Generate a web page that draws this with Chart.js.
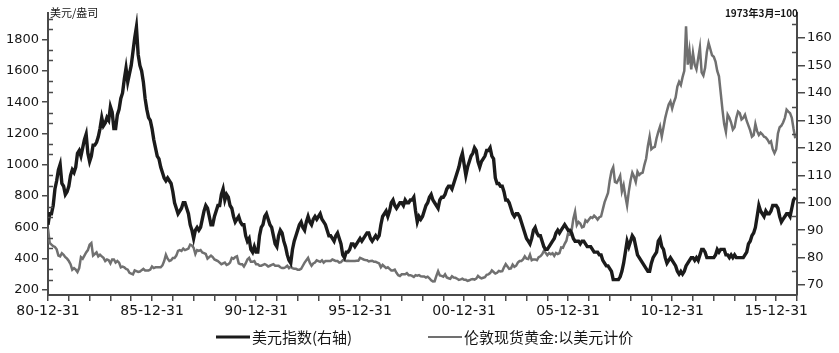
<!DOCTYPE html>
<html>
<head>
<meta charset="utf-8">
<script src="https://cdn.jsdelivr.net/npm/chart.js@4"></script>
<style>
  html, body { margin: 0; padding: 0; background: #fff; }
  #wrap { width: 839px; height: 353px; }
</style>
</head>
<body>
<div id="wrap"><canvas id="c"></canvas></div>
<script>
// monthly readings, first point sits on 80-12-31
const START_YEAR = 1981;
const END_YEAR = 2017;

// 美元指数 (right axis), one row per year, Jan..Dec
const usdIndex = [
  92, 96, 96, 99, 105, 108, 112, 114, 107, 106, 103, 104,
  106, 110, 112, 111, 113, 118, 119, 117, 120, 123, 125, 118,
  115, 117, 121, 121, 122, 124, 127, 131, 128, 129, 131, 130,
  135, 133, 127, 127, 132, 134, 138, 140, 145, 149, 144, 147,
  150, 155, 160, 164, 154, 150, 148, 144, 138, 134, 131, 130,
  127, 123, 120, 117, 116, 113, 111, 109, 108, 109, 108, 107,
  104, 100, 98, 96, 97, 98, 100, 100, 98, 96, 92, 90,
  87, 90, 91, 90, 91, 94, 97, 99, 98, 95, 92, 92,
  95, 97, 99, 99, 103, 105, 101, 103, 102, 99, 98, 95,
  93, 94, 95, 93, 92, 92, 88, 86, 87, 83, 82, 84,
  82, 82, 88, 91, 92, 95, 96, 94, 92, 91, 88, 85,
  84, 88, 90, 89, 86, 84, 81, 79, 78, 83, 86, 88,
  90, 92, 93, 91, 90, 93, 95, 93, 92, 94, 95, 94,
  95, 96, 94, 93, 92, 90, 88, 88, 87, 86, 88, 89,
  87, 85, 81, 80, 82, 82, 83, 85, 85, 84, 85, 86,
  87, 86, 87, 88, 89, 89, 87, 86, 87, 88, 87, 88,
  92, 95, 96, 97, 95, 97, 100, 101, 99, 98, 99, 100,
  100, 99, 101, 100, 100, 101, 101, 102, 97, 93, 95, 94,
  95, 97, 99, 100, 102, 103, 101, 100, 99, 98, 101, 102,
  102, 103, 105, 106, 106, 105, 107, 109, 111, 113, 116, 118,
  114, 110, 113, 115, 117, 118, 120, 119, 115, 113, 115, 116,
  117, 119, 119, 120, 117, 116, 109, 107, 107, 106, 106, 104,
  101, 101, 100, 98, 96, 95, 96, 96, 95, 93, 91, 89,
  87, 86, 85, 87, 90, 91, 89, 88, 88, 86, 84, 83,
  83, 84, 85, 86, 87, 89, 90, 89, 90, 91, 92, 91,
  90, 90, 89, 87, 86, 86, 86, 85, 86, 86, 85, 84,
  84, 84, 83, 82, 82, 82, 81, 81, 79, 78, 77, 77,
  76, 75, 72, 72, 72, 72, 73, 75, 78, 82, 86, 84,
  86, 88, 87, 84, 81, 80, 79, 78, 77, 76, 75, 75,
  78, 80, 81, 82, 86, 87, 84, 83, 80, 78, 79, 80,
  79, 78, 77, 75, 74, 75, 74, 75, 77, 78, 79, 80,
  80, 79, 80, 79, 81, 83, 83, 82, 80, 80, 80, 80,
  80, 81, 83, 82, 83, 83, 83, 81, 81, 80, 81, 80,
  81, 80, 80, 80, 80, 80, 81, 82, 85, 86, 88, 89,
  91, 95, 99, 97, 96, 95, 97, 96, 96, 97, 99, 99,
  99, 98, 95, 93, 94, 95, 96, 96, 95, 98, 101, 102
];

// 伦敦现货黄金 USD/oz (left axis), one row per year, Jan..Dec
const goldPrice = [
  590, 500, 490, 480, 475, 460, 420, 415, 435, 425, 410, 400,
  385, 365, 330, 340, 330, 315, 340, 410, 400, 420, 440, 455,
  490, 500, 420, 430, 440, 415, 425, 415, 405, 385, 395, 390,
  370, 395, 395, 375, 385, 375, 345, 350, 345, 335, 330, 310,
  305, 300, 325, 320, 315, 318, 327, 335, 325, 325, 325, 330,
  350, 340, 345, 345, 345, 345, 357, 385, 425, 400, 385, 390,
  405, 405, 420, 450, 455, 450, 465, 455, 460, 465, 490, 485,
  470, 430, 455, 450, 455, 440, 435, 430, 400, 410, 420, 410,
  395, 390, 385, 375, 365, 370, 375, 360, 365, 375, 405, 400,
  410, 415, 370, 365, 365, 350, 370, 395, 405, 380, 380, 385,
  365, 365, 355, 355, 360, 365, 360, 350, 355, 360, 365, 355,
  355, 355, 345, 340, 340, 345, 355, 340, 350, 340, 335, 335,
  330, 330, 335, 355, 375, 390, 405, 375, 355, 370, 375, 390,
  385, 380, 390, 375, 385, 385, 385, 385, 395, 390, 385, 385,
  375, 378, 390, 390, 385, 387, 385, 385, 385, 385, 387, 387,
  405, 400, 395, 392, 390, 382, 385, 387, 380, 380, 375, 370,
  345, 360, 350, 340, 345, 335, 325, 325, 330, 310, 295, 290,
  300, 300, 300, 308, 295, 295, 290, 283, 295, 292, 295, 288,
  287, 287, 280, 285, 275, 262, 255, 256, 290, 320, 293, 290,
  285, 300, 280, 275, 272, 288, 280, 278, 272, 265, 268, 272,
  265, 265, 258, 262, 268, 270, 266, 273, 290, 280, 274, 278,
  282, 297, 300, 308, 325, 315, 305, 310, 322, 318, 320, 345,
  365, 350, 335, 338, 362, 348, 355, 375, 385, 385, 395, 415,
  400, 398, 425, 390, 395, 395, 390, 410, 415, 428, 450, 438,
  422, 435, 428, 435, 418, 437, 430, 435, 472, 470, 495, 515,
  565, 555, 580, 655, 700, 615, 635, 625, 600, 605, 645, 635,
  650, 665, 660, 675, 665, 650, 665, 670, 715, 760, 790, 820,
  900, 960, 985, 890, 885, 905, 930, 830, 870, 800, 740, 830,
  900, 950, 925, 890, 955, 935, 945, 950, 1000, 1040, 1120, 1180,
  1100, 1110, 1115, 1170, 1210, 1245, 1180, 1240, 1300, 1345, 1385, 1405,
  1360, 1400, 1430, 1500, 1530, 1510, 1560, 1600, 1885, 1640, 1730, 1610,
  1715, 1640, 1610, 1680, 1750, 1590, 1570, 1620, 1720, 1779, 1740, 1700,
  1690, 1660, 1600, 1565, 1460, 1352, 1260, 1210, 1320, 1300, 1270, 1225,
  1240, 1300, 1340, 1330, 1290, 1300, 1320, 1280, 1250, 1220, 1180, 1190,
  1260, 1215, 1190, 1205, 1195, 1180, 1175, 1160, 1140, 1150, 1100, 1075,
  1100, 1200, 1240, 1250, 1270, 1300, 1352, 1340, 1330, 1300, 1230, 1170
];

const leftTicks = [200, 400, 600, 800, 1000, 1200, 1400, 1600, 1800];
const rightTicks = [70, 80, 90, 100, 110, 120, 130, 140, 150, 160];
const seriesNames = ['美元指数(右轴)', '伦敦现货黄金:以美元计价'];
const leftUnit = '美元/盎司';
const rightUnit = '1973年3月=100';

const AXIS = '#4a4a4a';
const TXT = '#161616';
const BLACK = '#1b1b1b';
const GRAY = '#707070';

const toPoints = arr => arr.map((v, i) => ({ x: START_YEAR + i / 12, y: v }));

function dateLabel(yr) {
  return String((yr - 1) % 100).padStart(2, '0') + '-12-31';
}

// small inward ticks, unit captions and legend
const extras = {
  id: 'extras',
  afterDraw(chart) {
    const ctx = chart.ctx;
    const yl = chart.scales.yL, yr = chart.scales.yR;
    ctx.save();
    ctx.strokeStyle = AXIS;
    ctx.lineWidth = 1.5;
    ctx.beginPath();
    for (let k = -1; k <= 27; k++) {
      if (k % 3 === 0) continue;
      const v = 200 + k * 200 / 3;
      if (v < yl.min || v > yl.max) continue;
      const py = Math.round(yl.getPixelForValue(v)) + 0.5;
      ctx.moveTo(yl.right, py); ctx.lineTo(yl.right + 5, py);
    }
    for (let v = 75; v <= 165; v += 10) {
      const py = Math.round(yr.getPixelForValue(v)) + 0.5;
      ctx.moveTo(yr.left, py); ctx.lineTo(yr.left - 5, py);
    }
    ctx.stroke();

    ctx.fillStyle = TXT;
    ctx.textBaseline = 'middle';
    ctx.font = '11px "Noto Sans CJK SC"';
    ctx.textAlign = 'left';
    ctx.fillText(leftUnit, 50, 13);
    ctx.font = 'bold 10px "Noto Sans CJK SC"';
    ctx.textAlign = 'right';
    ctx.fillText(rightUnit, 798, 13);

    const items = [
      { x: 216, color: BLACK, w: 3, text: seriesNames[0] },
      { x: 428, color: GRAY, w: 2, text: seriesNames[1] }
    ];
    ctx.font = '15px "Noto Sans CJK SC"';
    ctx.textAlign = 'left';
    items.forEach(it => {
      ctx.strokeStyle = it.color;
      ctx.lineWidth = it.w;
      ctx.beginPath();
      ctx.moveTo(it.x, 337); ctx.lineTo(it.x + 34, 337);
      ctx.stroke();
      ctx.fillStyle = TXT;
      ctx.fillText(it.text, it.x + 36, 337);
    });
    ctx.restore();
  }
};

new Chart(document.getElementById('c'), {
  type: 'line',
  data: {
    datasets: [
      { label: seriesNames[0], data: toPoints(usdIndex), yAxisID: 'yR',
        borderColor: BLACK, borderWidth: 3.4, pointRadius: 0, tension: 0 },
      { label: seriesNames[1], data: toPoints(goldPrice), yAxisID: 'yL',
        borderColor: GRAY, borderWidth: 2.5, pointRadius: 0, tension: 0 }
    ]
  },
  options: {
    responsive: true,
    maintainAspectRatio: false,
    animation: false,
    layout: { padding: { top: 13, bottom: 31, left: 0, right: 0 } },
    plugins: { legend: { display: false }, tooltip: { enabled: false } },
    scales: {
      x: {
        type: 'linear', min: START_YEAR, max: END_YEAR,
        afterBuildTicks: s => {
          s.ticks = [];
          for (let y = START_YEAR; y <= END_YEAR; y++) s.ticks.push({ value: y });
        },
        afterFit: s => { s.height = 27; },
        ticks: {
          autoSkip: false, maxRotation: 0, padding: 2, color: TXT,
          font: { family: 'DejaVu Sans', size: 14 },
          callback: v => ((v - START_YEAR) % 5 === 0 && v < END_YEAR) ? dateLabel(v) : ''
        },
        grid: { drawOnChartArea: false, tickLength: 6, color: AXIS, lineWidth: 1.5 },
        border: { color: AXIS, width: 2 }
      },
      yL: {
        position: 'left', min: 168, max: 1970,
        afterBuildTicks: s => { s.ticks = leftTicks.map(v => ({ value: v })); },
        afterFit: s => { s.width = 48; },
        ticks: { padding: 3, color: TXT, font: { family: 'DejaVu Sans', size: 13 },
          callback: v => String(v) },
        grid: { drawOnChartArea: false, tickLength: 6, color: AXIS, lineWidth: 1.5 },
        border: { color: AXIS, width: 2 }
      },
      yR: {
        position: 'right', min: 66.4, max: 169.1,
        afterBuildTicks: s => { s.ticks = rightTicks.map(v => ({ value: v })); },
        afterFit: s => { s.width = 42; },
        ticks: { padding: 2, color: TXT, font: { family: 'DejaVu Sans', size: 13 },
          callback: v => String(v) },
        grid: { drawOnChartArea: false, tickLength: 8, color: AXIS, lineWidth: 1.5 },
        border: { color: AXIS, width: 2 }
      }
    }
  },
  plugins: [extras]
});
</script>
</body>
</html>
